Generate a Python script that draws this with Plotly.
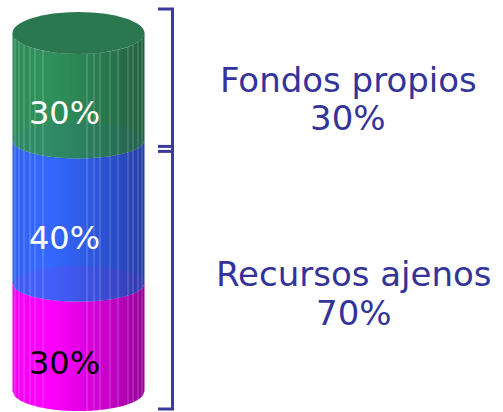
import math
import plotly.graph_objects as go

# ---------------- data ----------------
segment_values = [30, 40, 30]            # bottom -> top (%)
segment_labels = ["30%", "40%", "30%"]
group_names = ["Fondos propios", "Recursos ajenos"]
group_values = [30, 70]
group_labels = ["30%", "70%"]

# ---------------- style / geometry ----------------
W, H = 503, 412
P0 = 391.0      # pixel row of the 0 % level
K = 3.58        # pixels per percent
Y_LO = (P0 - H) / K
Y_HI = P0 / K


def d(px):
    """pixel length -> data length on the y axis"""
    return px / K


CX, RX = 78.5, 66.0
BOUND_RY = [20, 18, 18, 21]      # ellipse half-heights (px) at each boundary, bottom->top
SEG_LIGHT = [(255, 0, 255), (52, 104, 255), (48, 145, 92)]
SEG_DARK = [(148, 0, 152), (36, 60, 165), (33, 96, 63)]
CAP_COLOR = "#2a7750"
FACETS = [15, 19, 24, 30, 35, 43, 87, 94, 100, 110, 118, 128, 133, 138, 142]
LABEL_COLORS = ["black", "white", "white"]
BRACKET_COLOR = "#3b3b9c"
TEXT_COLOR = "#333399"
FONT = "Verdana, DejaVu Sans, sans-serif"

cum = [0]
for v in segment_values:
    cum.append(cum[-1] + v)


def shade(t):
    if t < 0.22:
        return 0.86 + 0.14 * (t / 0.22)
    return max(0.0, 1 - ((t - 0.22) / 0.78) ** 1.4)


def mix(c1, c2, b):
    return "rgb(%d,%d,%d)" % tuple(round(a + (bb - a) * b) for a, bb in zip(c2, c1))


def arc(x, ry_px):
    u = (x - CX) / RX
    u = max(-1.0, min(1.0, u))
    return d(ry_px) * math.sqrt(1 - u * u)


shapes = []
N = 66
xs = [CX - RX + 2 * RX * i / N for i in range(N + 1)]
for s in range(len(segment_values)):
    p_lo, p_hi = cum[s], cum[s + 1]
    r_lo, r_hi = BOUND_RY[s], BOUND_RY[s + 1]
    for i in range(N):
        x0, x1 = xs[i], xs[i + 1]
        x1e = min(x1 + 0.7, CX + RX)
        t = ((x0 + x1) / 2 - (CX - RX)) / (2 * RX)
        col = mix(SEG_LIGHT[s], SEG_DARK[s], shade(t))
        path = "M %.2f,%.4f L %.2f,%.4f L %.2f,%.4f L %.2f,%.4f Z" % (
            x0, p_hi - arc(x0, r_hi), x1e, p_hi - arc(x1e, r_hi),
            x1e, p_lo - arc(x1e, r_lo), x0, p_lo - arc(x0, r_lo))
        shapes.append(dict(type="path", path=path, xref="x", yref="y",
                           fillcolor=col, line=dict(width=0), layer="above"))

# translucent top faces of the lower segments
for s in range(1, len(segment_values)):
    p = cum[s]
    ry = BOUND_RY[s]
    shapes.append(dict(type="circle", xref="x", yref="y",
                       x0=CX - RX, x1=CX + RX, y0=p - d(ry), y1=p + d(ry),
                       fillcolor=mix(SEG_LIGHT[s - 1], SEG_DARK[s - 1], 0.8),
                       opacity=0.08, line=dict(width=0), layer="above"))

# facet lines
for fx in FACETS:
    shapes.append(dict(type="line", xref="x", yref="y",
                       x0=fx, x1=fx,
                       y0=cum[-1] - arc(fx, BOUND_RY[-1]), y1=cum[0] - arc(fx, BOUND_RY[0]),
                       line=dict(color="rgba(255,255,255,0.28)", width=1), layer="above"))

# top cap
shapes.append(dict(type="circle", xref="x", yref="y",
                   x0=CX - RX, x1=CX + RX,
                   y0=cum[-1] - d(BOUND_RY[-1]), y1=cum[-1] + d(BOUND_RY[-1]),
                   fillcolor=CAP_COLOR, line=dict(width=0), layer="above"))

# brackets
BX, BX0 = 172.5, 158
top_b = cum[-1] + d(24)
bot_b = cum[0] - d(18)
split = cum[-1] - group_values[0]
mid1 = split - d(6)
mid2 = split - d(11)
bl = dict(color=BRACKET_COLOR, width=3)
shapes.append(dict(type="line", xref="x", yref="y", x0=BX, x1=BX, y0=top_b, y1=bot_b, line=bl))
for yy in (top_b, mid1, mid2, bot_b):
    shapes.append(dict(type="line", xref="x", yref="y", x0=BX0, x1=BX + 1.5, y0=yy, y1=yy, line=bl))

annotations = []
for s in range(len(segment_values)):
    mid = (cum[s] + cum[s + 1]) / 2
    annotations.append(dict(x=CX - 14, y=mid - d(26), xref="x", yref="y",
                            text=segment_labels[s], showarrow=False,
                            font=dict(family=FONT, size=32, color=LABEL_COLORS[s]),
                            xanchor="center", yanchor="middle"))

group_pos = [(348, 80, 118), (354, 274, 313)]   # x centre, line-1 row, line-2 row (px)
for g in range(len(group_names)):
    gx, r1, r2 = group_pos[g]
    annotations.append(dict(x=gx, y=(P0 - r1) / K, xref="x", yref="y",
                            text=group_names[g], showarrow=False,
                            font=dict(family=FONT, size=34, color=TEXT_COLOR),
                            xanchor="center", yanchor="middle"))
    annotations.append(dict(x=gx, y=(P0 - r2) / K, xref="x", yref="y",
                            text=group_labels[g], showarrow=False,
                            font=dict(family=FONT, size=34, color=TEXT_COLOR),
                            xanchor="center", yanchor="middle"))

fig = go.Figure()
fig.add_trace(go.Scatter(x=[0, W], y=[Y_LO, Y_HI], mode="markers",
                         marker=dict(opacity=0), hoverinfo="skip", showlegend=False))
fig.update_layout(
    width=W, height=H,
    margin=dict(l=0, r=0, t=0, b=0),
    paper_bgcolor="white", plot_bgcolor="white",
    xaxis=dict(range=[0, W], visible=False, fixedrange=True),
    yaxis=dict(range=[Y_LO, Y_HI], visible=False, fixedrange=True),
    shapes=shapes, annotations=annotations, showlegend=False,
)
fig.write_html("out.html", config={"displayModeBar": False},
               post_script="document.body.style.margin='0';document.body.style.overflow='hidden';")
